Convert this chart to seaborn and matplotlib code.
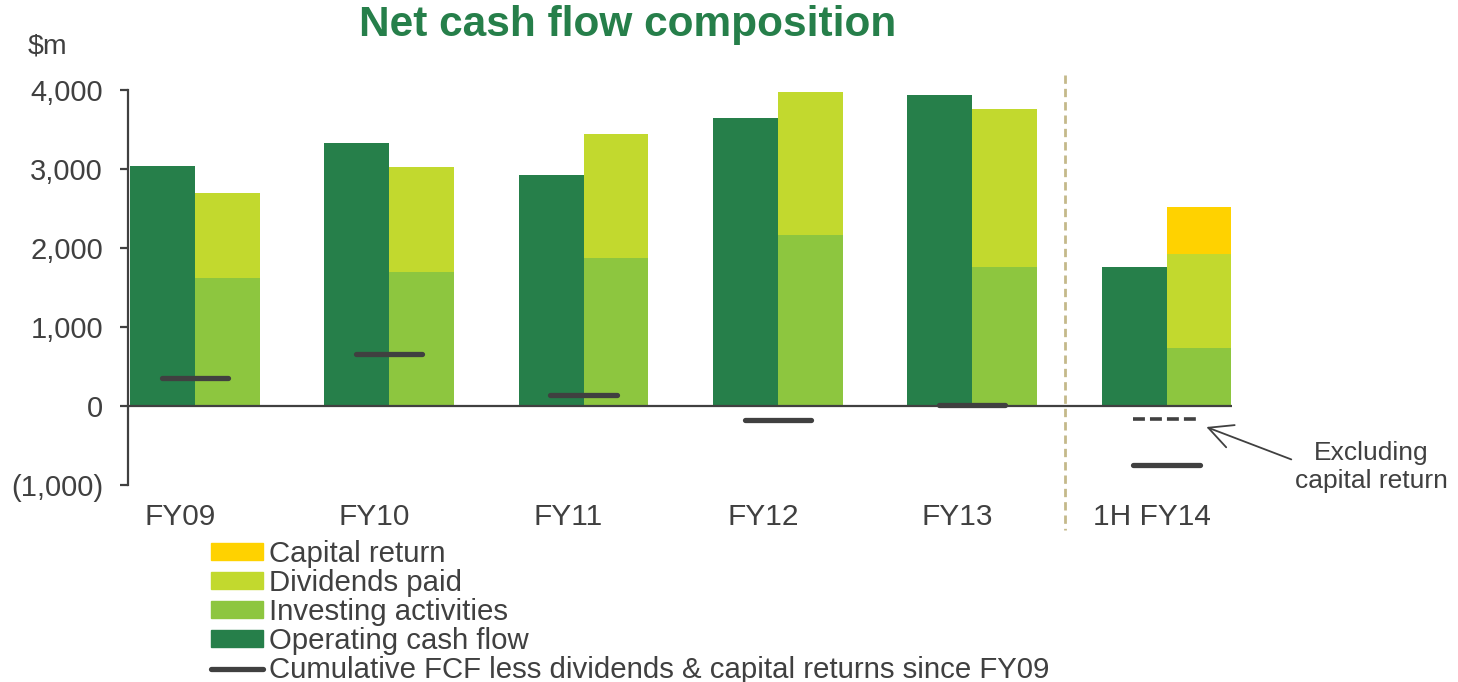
import numpy as np
import pandas as pd
import seaborn as sns
import matplotlib
matplotlib.use("Agg")
import matplotlib.pyplot as plt
from matplotlib.transforms import ScaledTranslation


periods = ["FY09", "FY10", "FY11", "FY12", "FY13", "1H FY14"]
operating = [3040, 3330, 2920, 3650, 3940, 1760]
investing = [1620, 1700, 1870, 2160, 1760, 740]
dividends = [1070, 1320, 1570, 1810, 2000, 1190]
capital_return = [0, 0, 0, 0, 0, 590]
cumulative = [350, 660, 140, -180, 10, -750]
cum_excl_capital = [None, None, None, None, None, -165]

DARK = "#267F4A"
INVEST = "#8DC63F"
DIVS = "#C2D92E"
CAP = "#FFD200"
TEXT = "#404040"

sns.set_style("white")
plt.rcParams["font.family"] = ["Liberation Sans", "DejaVu Sans"]

fig = plt.figure(figsize=(14.58, 6.82), dpi=100)
ax = fig.add_axes([128 / 1458, 1 - 485 / 682, (1232 - 128) / 1458, (485 - 90) / 682])

# stacked right-hand bars drawn as layered totals (top layer first)
inv = np.array(investing)
inv_div = inv + np.array(dividends)
total = inv_div + np.array(capital_return)
layers = [(total, CAP), (inv_div, DIVS), (inv, INVEST)]
for heights, col in layers:
    df = pd.DataFrame({
        "period": periods * 2,
        "side": ["op"] * len(periods) + ["out"] * len(periods),
        "value": list(operating) + list(heights),
    })
    sns.barplot(data=df, x="period", y="value", hue="side", hue_order=["op", "out"],
                palette=[DARK, col], dodge=True, width=0.667, saturation=1,
                linewidth=0, legend=False, ax=ax)

# cumulative FCF markers
xs = np.arange(len(periods))
ax.hlines(cumulative, xs - 0.17, xs + 0.17, color=TEXT, lw=3.8, capstyle="round", zorder=5)
ex = [(i, v) for i, v in enumerate(cum_excl_capital) if v is not None]
for i, v in ex:
    ax.plot([i - 0.17, i + 0.17], [v, v], color=TEXT, lw=2.6, ls=(0, (3.3, 1.4)), zorder=5)

ax.axhline(0, color=TEXT, lw=1.6, zorder=4)
ax.plot([4.477, 4.477], [4190, -1570], color="#C4B98A", lw=2, ls=(0, (3, 1.8)),
        clip_on=False, zorder=3)

ax.set_xlim(-0.344, 5.337)
ax.set_ylim(-1000, 4000)
ax.set_yticks([-1000, 0, 1000, 2000, 3000, 4000])
ax.yaxis.set_major_formatter(matplotlib.ticker.FuncFormatter(
    lambda v, p: f"({abs(v):,.0f})" if v < 0 else f"{v:,.0f}"))
ax.set_xlabel("")
ax.set_ylabel("")
for s in ["top", "right", "bottom"]:
    ax.spines[s].set_visible(False)
ax.spines["left"].set_color(TEXT)
ax.spines["left"].set_linewidth(1.6)
ax.tick_params(axis="y", left=True, length=6, width=1.6, color=TEXT, pad=12,
               labelsize=21, labelcolor=TEXT)
ax.tick_params(axis="x", bottom=False, length=0, pad=13, labelsize=21.5, labelcolor=TEXT)
shift = ScaledTranslation(-0.15, 0, fig.dpi_scale_trans)
for lab in ax.get_xticklabels():
    lab.set_transform(lab.get_transform() + shift)

ax.annotate("Excluding\ncapital return", xy=(5.205, -266), xycoords="data",
            xytext=(1371, 682 - 467), textcoords="figure pixels",
            ha="center", va="center", fontsize=19, color=TEXT, linespacing=1.25,
            arrowprops=dict(arrowstyle="->,head_length=0.9,head_width=0.45",
                            color=TEXT, lw=1.3, relpos=(0.0, 0.62),
                            shrinkA=0, shrinkB=0))

fig.text(628 / 1458, 1 - 25 / 682, "Net cash flow composition", ha="center", va="center",
         fontsize=30.5, fontweight="bold", color=DARK)
fig.text(28 / 1458, 1 - 47 / 682, "$m", ha="left", va="center", fontsize=20.5, color=TEXT)

handles = [
    plt.Rectangle((0, 0), 1, 1, color=CAP),
    plt.Rectangle((0, 0), 1, 1, color=DIVS),
    plt.Rectangle((0, 0), 1, 1, color=INVEST),
    plt.Rectangle((0, 0), 1, 1, color=DARK),
    plt.Line2D([0], [0], color=TEXT, lw=3.8, solid_capstyle="round"),
]
labels = ["Capital return", "Dividends paid", "Investing activities",
          "Operating cash flow", "Cumulative FCF less dividends & capital returns since FY09"]
leg = fig.legend(handles, labels, loc="upper left", bbox_to_anchor=(211 / 1458, 1 - 540 / 682),
                 frameon=False, fontsize=21.2, labelcolor=TEXT, handlelength=1.78,
                 handleheight=0.5, handletextpad=0.2, labelspacing=0.035,
                 borderpad=0, borderaxespad=0)

fig.savefig("out.png", dpi=100)
